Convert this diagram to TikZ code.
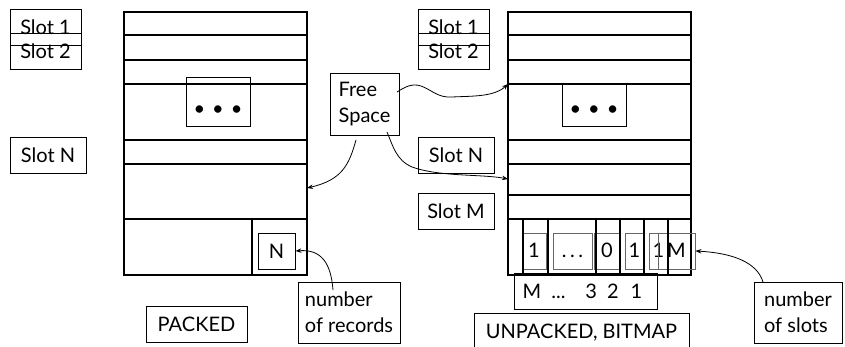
\documentclass[tikz,border=0pt]{standalone}
\usepackage{fontspec}
\setmainfont{Lato}
\usetikzlibrary{arrows.meta}
\newcommand{\lblfont}{\fontsize{20}{26}\selectfont}
\begin{document}
\begin{tikzpicture}[x=1pt,y=-1pt,
  box/.style={draw, line width=0.9pt, inner sep=0pt, font=\lblfont},
  thinbox/.style={draw=black!60, line width=0.8pt, inner sep=0pt, font=\lblfont, minimum height=36pt, text height=14pt, text depth=0pt},
  conn/.style={line width=0.8pt, -{Stealth[length=6pt,width=4.5pt]}},
  pageedge/.style={line width=1.1pt},
  pageline/.style={line width=1.7pt},
  bitbar/.style={line width=1.8pt}]
\useasboundingbox (0,0) rectangle (845,347);

% ---------- left page (packed) ----------
\draw[pageedge] (124,12) rectangle (307,275);
\foreach \yy in {35,60,84,140,164,219} \draw[pageline] (124,\yy) -- (307,\yy);
\draw[pageline] (252,219) -- (252,275);
\node[box, minimum width=64pt, minimum height=49pt, text height=29pt, text depth=0pt] (ldots) at (218,101.5) {\textbullet\kern7pt\textbullet\kern7pt\textbullet};
\node[box, minimum width=37pt, minimum height=36pt] (nbox) at (276.5,251) {N};
\coordinate (lfree) at (307,188);

\node[box, minimum width=71pt, minimum height=36pt] (ls1) at (45.5,27) {Slot 1};
\node[box, minimum width=71pt, minimum height=36pt] (ls2) at (45.5,51) {Slot 2};
\node[box, minimum width=76pt, minimum height=36pt] (lsn) at (48,155) {Slot N};
\node[box, minimum width=101pt, minimum height=36pt] (packed) at (196.5,324) {PACKED};
\node[box, minimum width=102pt, minimum height=61pt, align=left] (rec) at (349,312.5) {number\\of records};

% ---------- free space ----------
\node[box, minimum width=69pt, minimum height=62pt, align=left] (free) at (364.5,104) {Free\\Space};

% ---------- right page (unpacked, bitmap) ----------
\draw[pageedge] (508,12) rectangle (691,275);
\foreach \yy in {35,60,84,140,164,195,219} \draw[pageline] (508,\yy) -- (691,\yy);
\node[box, minimum width=64pt, minimum height=42pt, text height=22pt, text depth=0pt] (rdots) at (594,105) {\textbullet\kern7pt\textbullet\kern7pt\textbullet};
\coordinate (rtop) at (508,84);
\coordinate (rmid) at (508,179);

\node[box, minimum width=71pt, minimum height=36pt] (rs1) at (453.5,27) {Slot 1};
\node[box, minimum width=71pt, minimum height=36pt] (rs2) at (453.5,51) {Slot 2};
\node[box, minimum width=76pt, minimum height=36pt] (rsn) at (456,155) {Slot N};
\node[box, minimum width=76pt, minimum height=36pt] (rsm) at (456,211) {Slot M};

% bitmap cells
\node[thinbox, minimum width=24pt] (b1) at (534,251) {1};
\node[thinbox, minimum width=39pt] (b2) at (572.5,251) {.\kern3.5pt.\kern3.5pt.};
\node[thinbox, minimum width=26pt] (b3) at (607,251) {0};
\node[thinbox, minimum width=19pt] (b4) at (634.5,251) {1};
\node[thinbox, minimum width=19pt] (b5) at (658.5,251) {1};
\node[thinbox, minimum width=37pt] (bm) at (676.5,251) {M};
\foreach \xx in {523,548,596,620,644,668} \draw[bitbar] (\xx,219) -- (\xx,275);

\node[box, minimum width=143pt, minimum height=36pt] (idx) at (585.5,291) {M\hspace{10pt}...\hspace{20pt}3\hspace{10pt}2\hspace{12pt}1\hspace*{6pt}};
\node[box, minimum width=215pt, minimum height=40pt, anchor=north] (unp) at (581.5,313) {\raisebox{4pt}{UNPACKED, BITMAP}};
\node[box, minimum width=88pt, minimum height=61pt, align=left] (slots) at (798,312.5) {number\\of slots};

% ---------- connectors ----------
\coordinate (f1) at (356,140);
\coordinate (f2) at (397,92);
\coordinate (f3) at (387,132);
\coordinate (r1) at (333,290);
\coordinate (s1) at (763,282);
\draw[conn] (f1) .. controls (349,165) and (342,180) .. (lfree);
\draw[conn] (f2) .. controls (405,87) and (412,83) .. (421,86)
               .. controls (432,90) and (438,98) .. (452,97)
               .. controls (472,96) and (494,97) .. (rtop);
\draw[conn] (f3) .. controls (393,146) and (396,160) .. (412,167)
               .. controls (440,177) and (482,174) .. (rmid);
\draw[conn] (r1) .. controls (331,264) and (322,249) .. (nbox.east);
\draw[conn] (s1) .. controls (757,262) and (732,253) .. (bm.east);
\end{tikzpicture}
\end{document}
